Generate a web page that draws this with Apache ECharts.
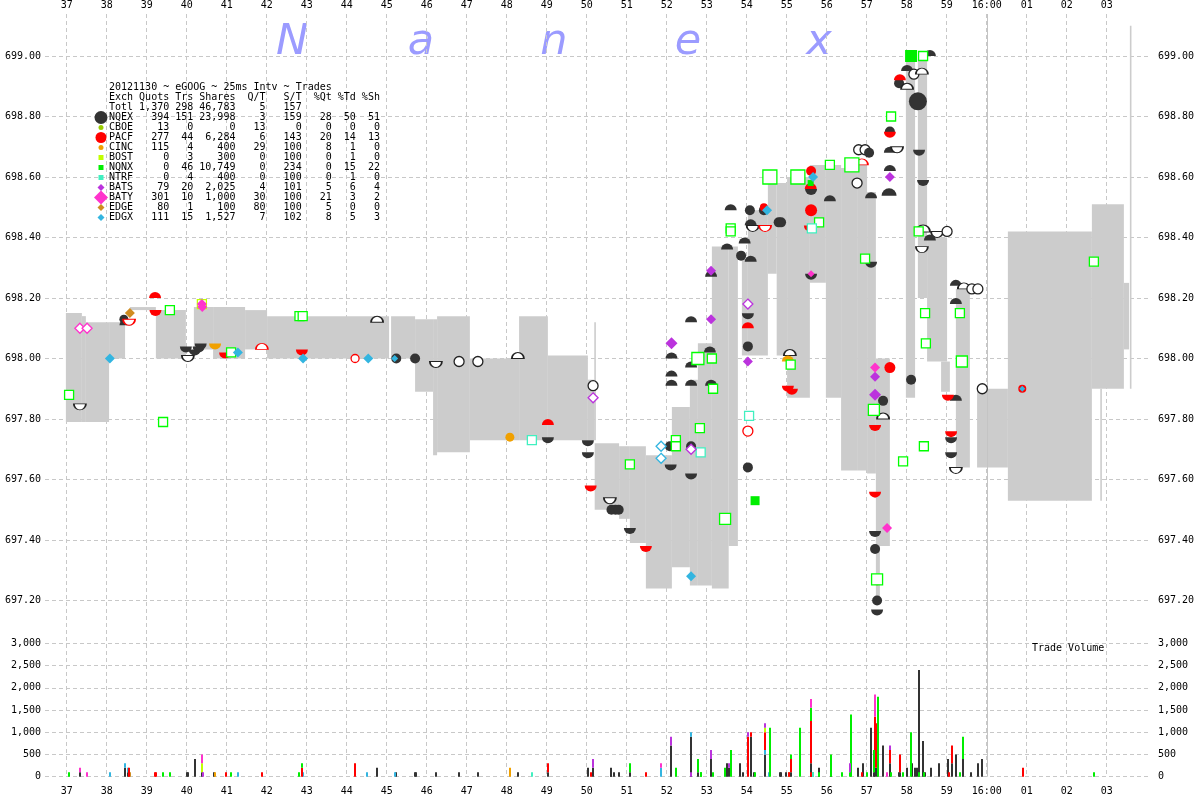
<!DOCTYPE html>
<html><head><meta charset="utf-8">
<script src="https://cdn.jsdelivr.net/npm/echarts@6/dist/echarts.min.js"></script>
<style>html,body{margin:0;padding:0;background:#fff}#c{width:1200px;height:800px}</style>
</head><body><div id="c"></div>
<script>
// ---------- tick labels ----------
const secTicks = [37,38,39,40,41,42,43,44,45,46,47,48,49,50,51,52,53,54,55,56,57,58,59,60,61,62,63];
const priceTicks = [697.2,697.4,697.6,697.8,698.0,698.2,698.4,698.6,698.8,699.0];
const volTicks = [0,500,1000,1500,2000,2500,3000];
const closeTime = [60];

// ---------- NBBO band (seconds after 15:59) ----------
const bandStart = [36.98,37.38,37.48,38.06,38.58,39.23,40.18,40.66,41.46,42.01,45.11,45.71,46.16,46.26,47.08,48.31,49.03,50.03,50.19,50.20,50.81,51.08,51.48,52.13,52.58,52.78,53.13,53.55,53.88,54.03,54.53,54.75,55.01,55.58,55.98,56.36,56.76,57.01,57.23,57.23,57.98,58.28,58.51,58.86,59.23,59.76,60.53,62.63,63.43,62.84,63.58];
const bandEnd   = [37.38,37.48,38.06,38.46,39.23,39.98,40.66,41.46,42.01,45.06,45.71,46.16,46.26,47.08,48.31,49.03,50.03,50.20,50.23,50.81,51.08,51.48,52.13,52.58,52.78,53.13,53.55,53.78,54.03,54.53,54.75,55.01,55.58,55.98,56.36,56.76,57.01,57.23,57.58,57.33,58.21,58.51,59.01,59.08,59.58,60.53,62.63,63.43,63.56,62.88,63.62];
const bandBid   = [697.79,697.79,697.79,698.00,698.16,698.00,698.03,698.00,698.03,698.00,698.00,697.89,697.68,697.69,697.73,697.73,697.73,697.73,697.73,697.50,697.47,697.39,697.24,697.31,697.25,697.25,697.24,697.38,698.01,698.01,698.28,698.01,697.87,698.25,697.87,697.63,697.63,697.62,697.38,697.20,697.87,698.20,697.99,697.89,697.64,697.64,697.53,697.90,698.03,697.53,697.90];
const bandAsk   = [698.15,698.14,698.12,698.12,698.17,698.16,698.17,698.17,698.16,698.14,698.14,698.13,698.13,698.14,698.00,698.14,698.01,697.93,698.12,697.72,697.71,697.71,697.68,697.84,697.93,698.05,698.37,698.37,698.33,698.49,698.58,698.58,698.60,698.64,698.64,698.63,698.65,698.55,698.00,697.40,698.99,698.99,698.40,697.99,698.23,697.90,698.42,698.51,698.25,697.90,699.10];

// ---------- trades [time, price, marker, size] ----------
const tNQEX = [[37.33,697.84,'D'],[38.43,698.13,'c',9],[38.47,698.12,'u'],[39.98,698.03,'d'],[40.2,698.02,'d'],[40.35,698.04,'d'],[40.3,698.03,'d'],[40.03,698.0,'D'],[44.76,698.13,'U'],[45.24,698.0,'c'],[45.71,698.0,'c'],[46.23,697.98,'D'],[46.81,697.99,'o'],[47.28,697.99,'o'],[48.28,698.01,'U'],[49.03,697.73,'d'],[50.16,697.91,'o'],[50.03,697.72,'d'],[50.03,697.68,'d'],[50.58,697.53,'D'],[50.62,697.5,'c'],[50.72,697.5,'c'],[50.8,697.5,'c'],[51.08,697.43,'d'],[52.08,697.71,'c'],[52.1,697.64,'d'],[52.12,698.01,'u'],[52.12,697.95,'u'],[52.12,697.92,'u'],[52.61,698.13,'u'],[52.61,697.98,'u'],[52.61,697.92,'u'],[52.61,697.71,'c'],[52.61,697.61,'d'],[53.08,698.03,'u'],[53.11,697.92,'u'],[53.11,698.28,'u'],[53.51,698.37,'u'],[53.6,698.5,'u'],[53.95,698.39,'u'],[53.86,698.34,'c'],[54.1,698.33,'u'],[54.08,698.49,'c'],[54.1,698.45,'u'],[54.15,698.43,'D'],[54.03,698.14,'d'],[54.03,698.04,'c'],[54.03,697.64,'c'],[54.43,698.49,'c'],[54.8,698.45,'c'],[54.86,698.45,'c'],[55.08,698.02,'U'],[55.61,698.55,'d'],[55.61,698.27,'d'],[56.08,698.53,'u'],[56.76,698.58,'o'],[56.8,698.69,'o'],[56.96,698.69,'o'],[57.06,698.68,'c'],[57.11,698.54,'u'],[57.11,698.31,'d'],[57.58,698.75,'c'],[57.58,698.69,'u'],[57.58,698.63,'u'],[57.56,698.55,'u',15],[57.76,698.69,'D'],[57.81,698.91,'c'],[58.01,698.96,'u'],[58.18,698.94,'o'],[58.38,698.95,'U'],[58.01,698.9,'U'],[58.58,699.01,'u'],[58.28,698.85,'c',18],[58.31,698.68,'d'],[58.41,698.58,'d'],[58.41,698.43,'U',14],[58.76,698.41,'D'],[59.01,698.42,'o'],[58.58,698.4,'u'],[58.38,698.36,'D'],[57.41,697.86,'c'],[57.41,697.81,'U'],[57.21,697.42,'d'],[57.21,697.37,'c'],[57.26,697.2,'c'],[57.26,697.16,'d'],[58.11,697.93,'c'],[59.23,698.25,'u'],[59.43,698.24,'U'],[59.63,698.23,'o'],[59.78,698.23,'o'],[59.23,698.19,'u'],[59.23,697.87,'u'],[59.11,697.73,'d'],[59.11,697.68,'d'],[59.23,697.63,'D'],[59.89,697.9,'o']];
const tPACF = [[38.56,698.12,'D'],[39.21,698.21,'u'],[39.22,698.15,'d'],[40.96,698.01,'d'],[41.88,698.04,'U'],[42.88,698.02,'d'],[44.21,698.0,'o',8],[49.03,697.79,'u'],[50.1,697.57,'d'],[51.48,697.37,'d'],[54.03,698.11,'u'],[54.03,697.76,'o'],[54.43,698.5,'c',8],[54.46,698.43,'D'],[55.03,697.9,'d'],[55.13,697.89,'d'],[55.61,698.62,'c'],[55.61,698.49,'c',12],[55.6,698.57,'u'],[55.58,698.43,'d'],[56.88,698.65,'U'],[57.83,698.93,'u'],[57.58,698.74,'d'],[57.58,697.97,'c',11],[57.21,697.77,'d'],[57.21,697.55,'d'],[57.26,697.26,'d'],[59.03,697.87,'d'],[59.11,697.75,'d'],[60.89,697.9,'c',8]];
const tNQNX = [[37.06,697.88,'q'],[39.41,697.79,'q'],[39.58,698.16,'q'],[41.11,698.02,'q'],[42.82,698.14,'q'],[42.9,698.14,'q'],[51.08,697.65,'q'],[52.23,697.73,'q'],[52.23,697.71,'q'],[52.78,698.0,'q',12],[53.13,698.0,'q'],[53.16,697.9,'q'],[52.83,697.77,'q'],[53.46,697.47,'q',11],[53.6,698.43,'q'],[53.6,698.42,'q'],[54.21,697.53,'s'],[54.58,698.6,'q',14],[55.28,698.6,'q',14],[56.08,698.64,'q'],[56.63,698.64,'q',14],[55.81,698.45,'q'],[55.1,697.98,'q'],[55.6,698.58,'s',6],[56.96,698.33,'q'],[57.18,697.83,'q',11],[57.26,697.27,'q',11],[58.11,699.0,'s',12],[58.41,699.0,'q'],[57.61,698.8,'q'],[58.3,698.42,'q'],[58.46,698.15,'q'],[58.48,698.05,'q'],[59.38,697.99,'q',11],[59.33,698.15,'q'],[58.43,697.71,'q'],[57.91,697.66,'q'],[62.68,698.32,'q']];
const tBATS = [[50.16,697.87,'X'],[52.12,698.05,'x',12],[53.11,698.13,'x'],[53.11,698.29,'x'],[54.03,698.18,'X'],[54.03,697.99,'x'],[52.61,697.7,'X'],[57.58,698.6,'x'],[57.21,697.94,'x'],[57.21,697.88,'x',12]];
const tBATY = [[37.33,698.1,'X'],[37.51,698.1,'X'],[40.38,698.18,'x'],[40.39,698.17,'x'],[55.61,698.28,'x',7],[57.21,697.97,'x'],[57.51,697.44,'x']];
const tEDGX = [[38.08,698.0,'x'],[41.28,698.02,'x'],[42.91,698.0,'x'],[44.54,698.0,'x'],[45.2,698.0,'x',7],[51.86,697.71,'X'],[51.86,697.67,'X'],[52.61,697.28,'x'],[54.51,698.49,'x'],[55.66,698.6,'x'],[60.89,697.9,'x',6]];
const tCINC = [[40.71,698.04,'d'],[48.08,697.74,'c',9],[55.03,698.0,'u']];
const tEDGE = [[38.58,698.15,'x']];
const tNTRF = [[48.63,697.73,'q'],[52.85,697.69,'q'],[54.06,697.81,'q'],[55.63,698.43,'q']];
const tBOST = [[40.38,698.18,'q']];
const tCBOE = [];

// ---------- trade volume [time, shares] ----------
const vNQEX = [[37.34,100],[38.47,200],[38.54,100],[40.0,100],[40.04,100],[40.22,400],[40.39,100],[40.69,100],[44.77,200],[45.23,100],[45.72,100],[45.74,100],[46.24,100],[46.81,100],[47.29,100],[48.29,100],[49.04,100],[50.04,200],[50.16,200],[50.6,100],[50.62,200],[50.68,100],[50.8,100],[51.09,100],[52.11,700],[52.61,900],[52.79,100],[53.11,400],[53.52,300],[53.57,200],[53.84,300],[53.91,100],[54.12,900],[54.18,100],[54.46,500],[54.83,100],[54.86,100],[54.98,100],[55.12,100],[55.62,300],[55.81,200],[56.1,100],[56.79,200],[56.91,300],[57.12,1100],[57.19,100],[57.22,200],[57.25,200],[57.42,700],[57.59,300],[57.8,100],[57.83,100],[58.02,200],[58.14,300],[58.21,200],[58.25,200],[58.32,2400],[58.41,800],[58.46,100],[58.61,200],[58.81,300],[59.03,400],[59.13,300],[59.23,500],[59.4,400],[59.61,100],[59.79,300],[59.89,400]];
const vPACF = [[38.57,200],[39.22,100],[39.24,100],[40.99,100],[41.89,100],[42.89,200],[44.22,300],[49.04,200],[50.12,100],[51.49,100],[54.04,900],[54.12,100],[54.46,400],[55.06,100],[55.12,300],[55.6,100],[55.62,950],[56.89,100],[57.22,1150],[57.25,1000],[57.59,300],[57.83,400],[59.05,100],[59.13,400],[60.91,200]];
const vNQNX = [[37.07,100],[39.42,100],[39.59,100],[41.12,100],[42.82,100],[42.89,100],[51.09,200],[52.24,200],[52.79,300],[52.85,100],[52.87,100],[53.16,100],[53.47,200],[53.62,600],[54.2,100],[54.59,1100],[55.12,100],[55.33,1100],[55.62,300],[55.82,100],[56.1,400],[56.12,400],[56.39,100],[56.58,100],[56.61,1400],[57.0,100],[57.19,500],[57.28,1800],[57.61,100],[57.92,100],[58.12,1000],[58.3,100],[58.43,100],[59.33,100],[59.4,500],[62.69,100]];
const vBATS = [[40.42,100],[50.16,200],[52.11,200],[52.6,100],[53.11,200],[53.57,100],[54.04,100],[54.46,100],[56.58,200],[57.59,100]];
const vBATY = [[37.34,100],[37.52,100],[40.39,200],[51.86,100],[55.62,200],[57.22,500],[57.52,100]];
const vEDGX = [[38.09,100],[38.47,100],[38.54,100],[41.29,100],[42.91,100],[44.52,100],[45.2,100],[51.86,200],[52.61,100],[54.46,100],[54.55,100],[55.66,100]];
const vCINC = [[40.72,100],[48.09,200],[55.05,100]];
const vEDGE = [[38.59,100]];
const vNTRF = [[48.64,100],[55.67,100]];
const vBOST = [[40.39,200],[54.46,100]];
const vCBOE = [];

// ---------- summary table ----------
const exchNames = ['NQEX','CBOE','PACF','CINC','BOST','NQNX','NTRF','BATS','BATY','EDGE','EDGX'];
const colQuots  = [394,13,277,115,0,0,0,79,301,80,111];
const colTrs    = [151,0,44,4,3,46,4,20,10,1,15];
const colShares = [23998,0,6284,400,300,10749,400,2025,1000,100,1527];
const colQT     = [3,13,6,29,0,0,0,4,30,80,7];
const colST     = [159,0,143,100,100,234,100,101,100,100,102];
const colPQt    = [28,0,20,8,0,0,0,5,21,5,8];
const colPTd    = [50,0,14,1,1,15,1,6,3,0,5];
const colPSh    = [51,0,13,0,0,22,0,4,2,0,3];
const totals    = [1370,298,46783,5,157];
const exchColors = ['#333333','#99cc00','#ff0000','#f0a000','#c0ff00','#00ee00','#40f0c0','#bb33dd','#ff33cc','#d08c20','#33b5e0'];

// ---------- build ----------
const FONT = '"DejaVu Sans Mono"';
const DOME = 'path://M0,10A10,10 0 0 1 20,10Z';
const BOWL = 'path://M0,0A10,10 0 0 0 20,0Z';
const HOLLOW = ['o','U','D','q','X'];
function item(tr, color) {
  const [t, p, code, size] = tr;
  const k = code.toLowerCase();
  const hollow = HOLLOW.indexOf(code) >= 0;
  let symbol, ss;
  if (k === 'c' || k === 'o') { symbol = 'circle'; ss = size || 10; }
  else if (k === 'u') { symbol = DOME; const w = size || 12; ss = [w, w / 2]; }
  else if (k === 'd') { symbol = BOWL; const w = size || 12; ss = [w, w / 2]; }
  else if (k === 's' || k === 'q') { symbol = 'rect'; ss = size || 9; }
  else { symbol = 'diamond'; ss = size || 10; }
  const stroke = color === '#333333' ? '#222' : (color === '#00ee00' ? '#00ff00' : color);
  return {
    value: [t, p], symbol, symbolSize: ss,
    itemStyle: hollow ? { color: '#ffffff', borderColor: stroke, borderWidth: 1.3, opacity: 1 } : { color, borderWidth: 0, opacity: 1 }
  };
}
const tradeSets = [tNQEX,tCBOE,tPACF,tCINC,tBOST,tNQNX,tNTRF,tBATS,tBATY,tEDGE,tEDGX];
const volSets = [vNQEX,vCBOE,vPACF,vCINC,vBOST,vNQNX,vNTRF,vBATS,vBATY,vEDGE,vEDGX];
const stackOrder = [0,10,3,9,6,2,4,5,7,8,1];
const acc = {};
const volRects = [];
stackOrder.forEach(ei => {
  volSets[ei].forEach(([t, v]) => {
    const key = t.toFixed(2);
    const base = acc[key] || 0;
    volRects.push([t, base, base + v, ei]);
    acc[key] = base + v;
  });
});

const axisFont = { fontFamily: FONT, fontSize: 10, color: '#000' };
const gridLine = { show: true, lineStyle: { color: '#c8c8c8', width: 1, type: [4, 3] } };
const secFmt = v => v === 60 ? '16:00' : (v > 60 ? '0' + (v - 60) : String(v));
function xAx(gi, pos, margin) {
  return { type: 'value', gridIndex: gi, position: pos, min: 36.458, max: 64.108,
    axisLine: { show: false }, axisTick: { show: false, customValues: secTicks },
    axisLabel: Object.assign({ customValues: secTicks, formatter: secFmt, margin }, axisFont),
    splitLine: gridLine };
}
function yAx(gi, pos, min, max, ticks, fmt, split, margin) {
  return { type: 'value', gridIndex: gi, position: pos, min, max,
    axisLine: { show: false }, axisTick: { show: false, customValues: ticks },
    axisLabel: Object.assign({ customValues: ticks, formatter: fmt, margin }, axisFont),
    splitLine: split ? gridLine : { show: false } };
}
const pFmt = v => v.toFixed(2);
const vFmt = v => v.toLocaleString('en-US');

const series = [];
series.push({
  type: 'custom', xAxisIndex: 0, yAxisIndex: 0, silent: true, z: 1,
  data: bandStart.map((s, i) => [s, bandEnd[i], bandBid[i], bandAsk[i]]),
  renderItem: (params, api) => {
    const a = api.coord([api.value(0), api.value(3)]);
    const b = api.coord([api.value(1), api.value(2)]);
    return { type: 'rect', shape: { x: a[0], y: a[1], width: b[0] - a[0], height: b[1] - a[1] }, style: { fill: '#cccccc' } };
  }
});
[[0, 0], [1, 2]].forEach(([xi, yi]) => {
  series.push({
    type: 'custom', xAxisIndex: xi, yAxisIndex: yi, silent: true, z: 2,
    data: closeTime.map(t => [t]),
    renderItem: (params, api) => {
      const x = Math.round(api.coord([api.value(0), 0])[0]) + 0.5;
      const cs = params.coordSys;
      return { type: 'line', shape: { x1: x, y1: cs.y, x2: x, y2: cs.y + cs.height }, style: { stroke: '#c4c4c4', lineWidth: 1 } };
    }
  });
});
tradeSets.forEach((set, ei) => {
  series.push({
    type: 'scatter', name: exchNames[ei], xAxisIndex: 0, yAxisIndex: 0, z: 3, clip: false,
    data: set.map(tr => item(tr, exchColors[ei]))
  });
});
series.push({
  type: 'custom', xAxisIndex: 1, yAxisIndex: 2, silent: true, z: 3,
  data: volRects,
  renderItem: (params, api) => {
    const a = api.coord([api.value(0), api.value(2)]);
    const b = api.coord([api.value(0), api.value(1)]);
    return { type: 'rect', shape: { x: Math.round(a[0]) - 1, y: a[1], width: 2, height: b[1] - a[1] }, style: { fill: exchColors[api.value(3)] } };
  }
});

// graphics: watermark, table, legend markers
const graphic = [];
const wm = [['N', 292], ['a', 421], ['n', 554], ['e', 688], ['x', 819]];
wm.forEach(([ch, x]) => graphic.push({ type: 'text', x, y: 64, z: 0, style: { text: ch, font: 'oblique 43px "DejaVu Sans"', fill: '#9b9bff', align: 'center', verticalAlign: 'bottom' } }));
const pad = (v, n) => (typeof v === 'number' ? v.toLocaleString('en-US') : v).padStart(n, ' ');
const lines = [
  '20121130 ~ eGOOG ~ 25ms Intv ~ Trades',
  'Exch Quots Trs Shares  Q/T   S/T  %Qt %Td %Sh',
  'Totl' + pad(totals[0], 6) + pad(totals[1], 4) + pad(totals[2], 7) + pad(totals[3], 5) + pad(totals[4], 6)
];
exchNames.forEach((n, i) => lines.push(n + pad(colQuots[i], 6) + pad(colTrs[i], 4) + pad(colShares[i], 7) + pad(colQT[i], 5) + pad(colST[i], 6) + pad(colPQt[i], 5) + pad(colPTd[i], 4) + pad(colPSh[i], 4)));
lines.forEach((s, i) => graphic.push({ type: 'text', x: 109, y: 87.5 + 10 * i, z: 50, style: { text: s, font: '10px ' + FONT, fill: '#000', align: 'left', verticalAlign: 'middle' } }));
const legShapes = [['c', 6.5], ['c', 2.5], ['c', 5.5], ['c', 2.5], ['s', 2.5], ['s', 2.5], ['s', 2.5], ['d', 3.5], ['d', 7], ['d', 3.5], ['d', 3.5]];
legShapes.forEach(([k, r], i) => {
  const x = 101, y = 117.5 + 10 * i, fill = exchColors[i];
  if (k === 'c') graphic.push({ type: 'circle', z: 50, shape: { cx: x, cy: y, r }, style: { fill } });
  else if (k === 's') graphic.push({ type: 'rect', z: 50, shape: { x: x - r, y: y - r, width: 2 * r, height: 2 * r }, style: { fill } });
  else graphic.push({ type: 'polygon', z: 50, shape: { points: [[x, y - r], [x + r, y], [x, y + r], [x - r, y]] }, style: { fill } });
});
graphic.push({ type: 'text', x: 1032, y: 648, z: 50, style: { text: 'Trade Volume', font: '10px ' + FONT, fill: '#000', align: 'left', verticalAlign: 'middle' } });

const chart = echarts.init(document.getElementById('c'), null, { renderer: 'canvas' });
chart.setOption({
  animation: false,
  backgroundColor: '#ffffff',
  grid: [
    { left: 45, right: 49, top: 14, height: 616 },
    { left: 45, right: 49, top: 630, height: 146.67 }
  ],
  xAxis: [xAx(0, 'top', 4), xAx(1, 'bottom', 10)],
  yAxis: [
    yAx(0, 'left', 697.1025, 699.1388, priceTicks, pFmt, true, 4),
    yAx(0, 'right', 697.1025, 699.1388, priceTicks, pFmt, false, 7),
    yAx(1, 'left', 0, 3300, volTicks, vFmt, true, 4),
    yAx(1, 'right', 0, 3300, volTicks, vFmt, false, 7)
  ],
  series,
  graphic
});
</script></body></html>
